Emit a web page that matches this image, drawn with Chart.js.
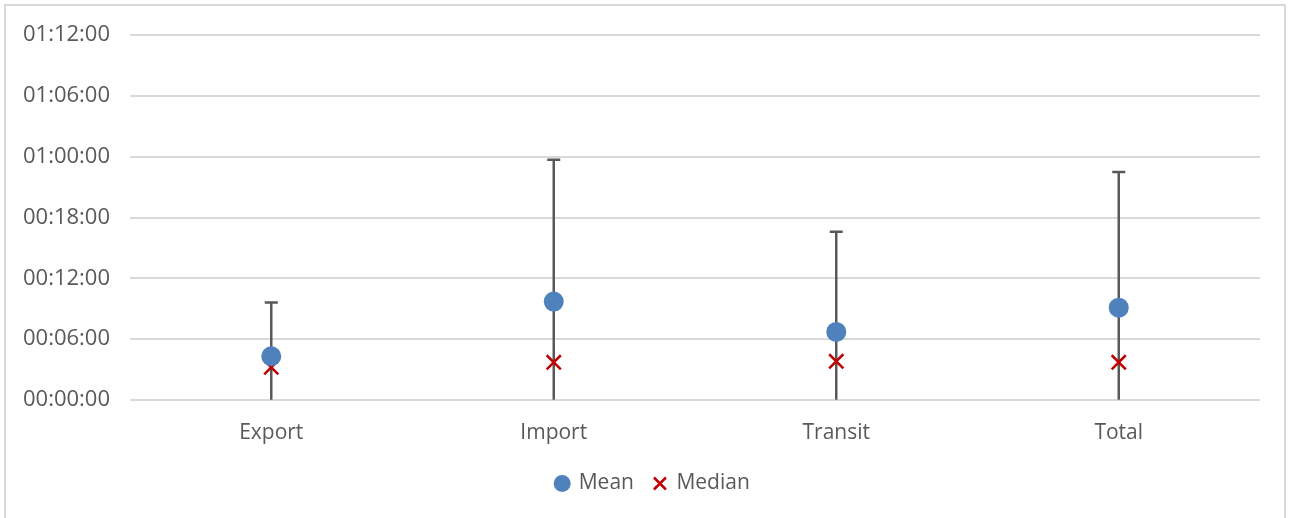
<!DOCTYPE html>
<html>
<head>
<meta charset="utf-8">
<script src="https://cdn.jsdelivr.net/npm/chart.js@4"></script>
<style>
  body { margin: 0; background: #fff; }
  #wrap {
    position: absolute; left: 4px; top: 4px;
    width: 1282px; height: 520px;
    border: 2px solid #D9D9D9; box-sizing: border-box;
  }
  #inner { position: absolute; left: 0; right: 0; top: -4px; bottom: 0; }
  canvas { display: block; }
</style>
</head>
<body>
<div id="wrap"><div id="inner"><canvas id="chart"></canvas></div></div>
<script>
// Categories and values (axis unit = minutes on the printed scale, 6 per gridline)
const categories = ['Export', 'Import', 'Transit', 'Total'];
const meanValues = [4.3, 9.7, 6.7, 9.1];
const medianValues = [3.2, 3.7, 3.8, 3.7];
const errorTop = [9.6, 23.7, 16.6, 22.5];
const errorBottom = [0, 0, 0, 0];
const yTickLabels = ['00:00:00', '00:06:00', '00:12:00', '00:18:00', '01:00:00', '01:06:00', '01:12:00'];

const TEXT = '#595959';
const FONT = "'Open Sans', 'Liberation Sans', sans-serif";

// Draws the error bars of the Mean series under the points
const errorBars = {
  id: 'errorBars',
  beforeDatasetsDraw(chart) {
    const { ctx, scales: { x, y } } = chart;
    ctx.save();
    ctx.strokeStyle = '#595959';
    ctx.lineWidth = 2.5;
    categories.forEach((c, i) => {
      const px = x.getPixelForValue(i);
      const top = y.getPixelForValue(errorTop[i]);
      const bot = y.getPixelForValue(errorBottom[i]);
      ctx.beginPath();
      ctx.moveTo(px, bot);
      ctx.lineTo(px, top);
      ctx.moveTo(px - 6.5, top);
      ctx.lineTo(px + 6.5, top);
      ctx.stroke();
    });
    ctx.restore();
  }
};

// Legend is centred on the whole canvas, not on the padded area
const centreLegend = {
  id: 'centreLegend',
  afterLayout(chart) {
    chart.legend.left += 20;
    chart.legend.right += 20;
  }
};

const chart = new Chart(document.getElementById('chart'), {
  type: 'line',
  data: {
    labels: categories,
    datasets: [{
      label: 'Mean',
      data: meanValues,
      showLine: false,
      pointStyle: 'circle',
      pointRadius: 10,
      pointHoverRadius: 10,
      backgroundColor: '#4F81BD',
      borderColor: '#4F81BD',
      borderWidth: 0
    }, {
      label: 'Median',
      data: medianValues,
      showLine: false,
      pointStyle: 'crossRot',
      pointRadius: 10,
      pointHoverRadius: 10,
      backgroundColor: '#C00000',
      borderColor: '#C00000',
      pointBorderWidth: 2.5,
      borderWidth: 2.5
    }]
  },
  options: {
    responsive: true,
    maintainAspectRatio: false,
    animation: false,
    layout: { padding: { top: 10, right: 24, bottom: 18 } },
    plugins: {
      tooltip: { enabled: false },
      legend: {
        position: 'bottom',
        labels: {
          usePointStyle: true,
          boxWidth: 12,
          boxHeight: 12,
          padding: 20,
          color: TEXT,
          font: { family: FONT, size: 21 }
        }
      }
    },
    scales: {
      x: {
        offset: true,
        afterFit(scale) { scale.height -= 6; },
        grid: { display: false },
        border: { display: false },
        ticks: { color: TEXT, font: { family: FONT, size: 21 }, padding: 13 }
      },
      y: {
        min: 0,
        max: 36,
        afterFit(scale) { scale.width = 124; },
        border: { display: false },
        grid: { color: '#D9D9D9', lineWidth: 2, drawTicks: false },
        ticks: {
          stepSize: 6,
          padding: 20,
          color: TEXT,
          font: { family: FONT, size: 22 },
          callback: (v, i) => yTickLabels[i]
        }
      }
    }
  },
  plugins: [errorBars, centreLegend]
});
</script>
</body>
</html>
